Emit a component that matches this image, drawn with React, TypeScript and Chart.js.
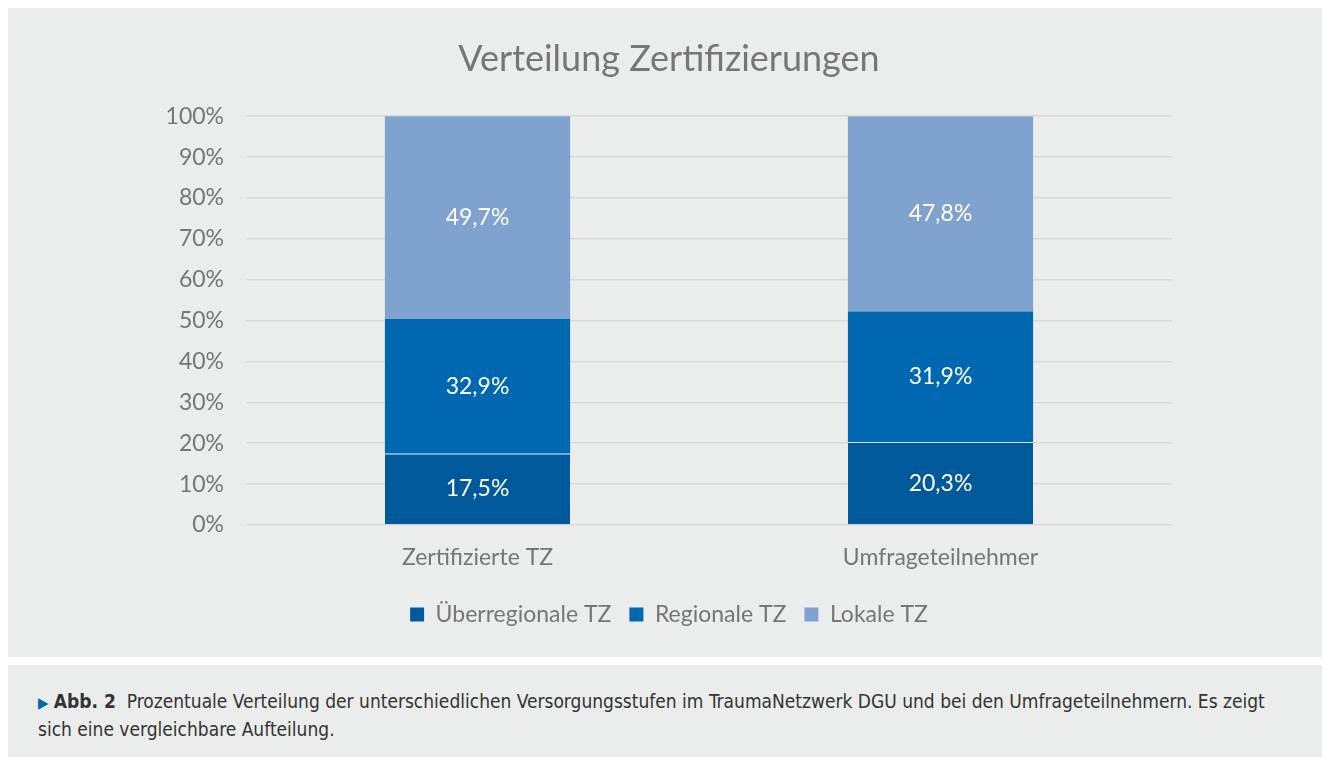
import React, { useEffect, useRef } from "react";
import { Chart, registerables } from "chart.js";

Chart.register(...registerables);

const categories = ["Zertifizierte TZ", "Umfrageteilnehmer"];
const seriesNames = ["Überregionale TZ", "Regionale TZ", "Lokale TZ"];
const ueberregional = [17.5, 20.3];
const regional = [32.9, 31.9];
const lokal = [49.7, 47.8];
const yTicks = [0, 10, 20, 30, 40, 50, 60, 70, 80, 90, 100];

const colors = ["#00599a", "#0068b1", "#7fa3ce"];
const FONT = "Lato, 'Open Sans', sans-serif";

const dataLabels = {
  id: "dataLabels",
  afterDatasetsDraw(chart: any) {
    const ctx = chart.ctx;
    ctx.save();
    ctx.fillStyle = "#ffffff";
    ctx.font = `23px ${FONT}`;
    ctx.textAlign = "center";
    ctx.textBaseline = "middle";
    chart.data.datasets.forEach((ds: any, i: number) => {
      const meta = chart.getDatasetMeta(i);
      meta.data.forEach((el: any, j: number) => {
        const v = ds.data[j];
        const y = (el.y + el.base) / 2;
        ctx.fillText(v.toFixed(1).replace(".", ",") + "%", el.x, y);
      });
    });
    ctx.restore();
  },
};

export default function App() {
  const ref = useRef<HTMLCanvasElement>(null);
  useEffect(() => {
    if (!ref.current) return;
    const values = [ueberregional, regional, lokal];
    const chart = new Chart(ref.current, {
      type: "bar",
      data: {
        labels: categories,
        datasets: seriesNames.map((name, i) => ({
          label: name,
          data: values[i],
          backgroundColor: colors[i],
          borderColor: "rgba(255,255,255,0.2)",
          borderWidth: { top: i === 0 ? 1 : 0, bottom: 0, left: 0, right: 0 },
          borderSkipped: false,
          categoryPercentage: 1,
          barPercentage: 0.4,
        })),
      },
      options: {
        responsive: false,
        animation: false,
        layout: { padding: { left: 0, right: 0, top: 0, bottom: 21 } },
        plugins: {
          title: {
            display: true,
            text: "Verteilung Zertifizierungen",
            color: "#767676",
            font: { family: FONT, size: 36, weight: "normal" },
            padding: { top: 30, bottom: 35 },
          },
          legend: {
            display: true,
            position: "bottom",
            labels: {
              color: "#767676",
              boxWidth: 14,
              boxHeight: 14,
              padding: 18,
              font: { family: FONT, size: 23 },
            },
          },
          tooltip: { enabled: false },
        },
        scales: {
          x: {
            stacked: true,
            grid: { display: false, drawTicks: false },
            border: { display: false },
            afterFit(scale: any) {
              scale.height = 60;
            },
            ticks: {
              color: "#767676",
              padding: 19,
              font: { family: FONT, size: 23 },
            },
          },
          y: {
            stacked: true,
            min: 0,
            max: 100,
            afterFit(scale: any) {
              scale.width = 238;
            },
            afterBuildTicks(scale: any) {
              scale.ticks = yTicks.map((v) => ({ value: v }));
            },
            grid: { color: "#d9d9d9", lineWidth: 1.5, drawTicks: false },
            border: { display: false },
            ticks: {
              color: "#767676",
              padding: 22,
              font: { family: FONT, size: 23 },
              callback: (v: any) => v + "%",
            },
          },
          yRight: {
            type: "linear",
            position: "right",
            display: true,
            grid: { display: false, drawTicks: false },
            border: { display: false },
            ticks: { display: false },
            afterFit(scale: any) {
              scale.width = 158;
            },
          },
        },
      },
      plugins: [dataLabels],
    });
    return () => chart.destroy();
  }, []);

  return (
    <div>
      <div style={{ width: 1322, height: 649, background: "#ebecec" }}>
        <canvas ref={ref} width={1322} height={649} style={{ display: "block" }} />
      </div>
      <div
        style={{
          marginTop: 8,
          width: 1322,
          height: 92,
          background: "#ebecec",
          boxSizing: "border-box",
          padding: "23px 30px 0 30px",
          fontFamily: "'Liberation Sans Narrow', 'DejaVu Sans Condensed', sans-serif",
          fontSize: 19,
          lineHeight: "26px",
          color: "#333333",
        }}
      >
        <span style={{ color: "#0068b1", fontSize: 15 }}>▶</span>{" "}
        <b>Abb. 2</b>&nbsp; Prozentuale Verteilung der unterschiedlichen Versorgungsstufen im TraumaNetzwerk DGU und bei den Umfrageteilnehmern. Es zeigt sich eine vergleichbare Aufteilung.
      </div>
    </div>
  );
}
